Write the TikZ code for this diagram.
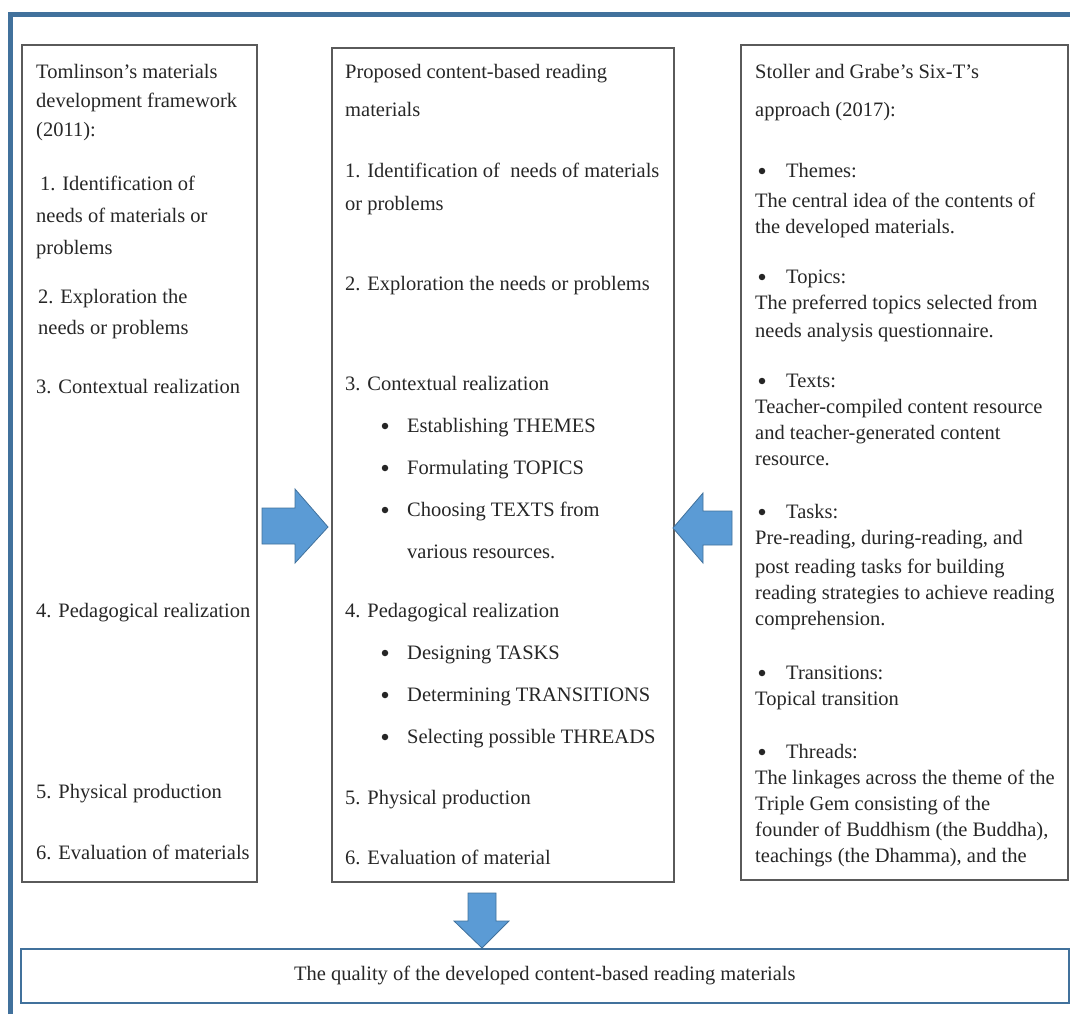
\documentclass[tikz,border=0pt]{standalone}
\usepackage{fontspec}
\setmainfont{Liberation Serif}
\definecolor{frameblue}{HTML}{41719C}
\definecolor{arrowfill}{HTML}{5B9BD5}
\definecolor{boxgray}{HTML}{5A5A5A}
\begin{document}
\begin{tikzpicture}[x=1pt,y=-1pt,
  txt/.style={anchor=base west, inner sep=0pt, font=\fontsize{20.5}{24}\selectfont, text=black!85},
  dot/.style={circle, fill=black!85, inner sep=0pt, minimum size=6.5pt},
  panel/.style={draw=boxgray, line width=1.2pt},
  blockarrow/.style={fill=arrowfill, draw=frameblue, line width=0.8pt, line join=miter}]
\useasboundingbox (0,0) rectangle (1070,1014);
% outer frame
\draw[frameblue, line width=4.5pt] (10.5,1014) -- (10.5,14.5) -- (1070,14.5);
% panels
\draw[panel] (22,45) rectangle (257,882);
\draw[panel] (332,48) rectangle (674,882);
\draw[panel] (741,45) rectangle (1068,880);
\node[draw=frameblue, line width=1.5pt, minimum width=1048pt, minimum height=54pt, anchor=north west, inner sep=0pt,
  font=\fontsize{20.5}{24}\selectfont, text=black!85] (quality) at (20,948) {The quality of the developed content-based reading materials};
% arrows
\fill[blockarrow] (262,508) -- (295,508) -- (295,489) -- (328,527) -- (295,563) -- (295,544) -- (262,544) -- cycle;
\fill[blockarrow] (732,511) -- (703,511) -- (703,493) -- (673,528) -- (703,563) -- (703,545) -- (732,545) -- cycle;
\fill[blockarrow] (468,893) -- (496,893) -- (496,921) -- (509,921) -- (482,948) -- (454,921) -- (468,921) -- cycle;
% left panel
\node[txt] (l1) at (36,79) {Tomlinson’s materials};
\node[txt] (l2) at (36,107) {development framework};
\node[txt] (l3) at (36,136) {(2011):};
\node[txt] (l4) at (40,190) {1. Identification of};
\node[txt] (l5) at (36,222) {needs of materials or};
\node[txt] (l6) at (36,254) {problems};
\node[txt] (l7) at (38,303) {2. Exploration the};
\node[txt] (l8) at (38,334) {needs or problems};
\node[txt] (l9) at (36,393) {3. Contextual realization};
\node[txt] (l10) at (36,617) {4. Pedagogical realization};
\node[txt] (l11) at (36,798) {5. Physical production};
\node[txt] (l12) at (36,859) {6. Evaluation of materials};
% middle panel
\node[txt] (m1) at (345,79) {Proposed content-based reading};
\node[txt] (m2) at (345,117) {materials};
\node[txt] (m3) at (345,177) {1. Identification of\ \ needs of materials};
\node[txt] (m4) at (345,210) {or problems};
\node[txt] (m5) at (345,290) {2. Exploration the needs or problems};
\node[txt] (m6) at (345,390) {3. Contextual realization};
\node[dot] (mb1) at (385,426) {};
\node[txt] (m7) at (407,432) {Establishing THEMES};
\node[dot] (mb2) at (385,468) {};
\node[txt] (m8) at (407,474) {Formulating TOPICS};
\node[dot] (mb3) at (385,510) {};
\node[txt] (m9) at (407,516) {Choosing TEXTS from};
\node[txt] (m10) at (407,558) {various resources.};
\node[txt] (m11) at (345,617) {4. Pedagogical realization};
\node[dot] (mb4) at (385,653) {};
\node[txt] (m12) at (407,659) {Designing TASKS};
\node[dot] (mb5) at (385,695) {};
\node[txt] (m13) at (407,701) {Determining TRANSITIONS};
\node[dot] (mb6) at (385,737) {};
\node[txt] (m14) at (407,743) {Selecting possible THREADS};
\node[txt] (m15) at (345,804) {5. Physical production};
\node[txt] (m16) at (345,864) {6. Evaluation of material};
% right panel
\node[txt] (r1) at (755,79) {Stoller and Grabe’s Six-T’s};
\node[txt] (r2) at (755,117) {approach (2017):};
\node[dot] (rb1) at (762,171) {};
\node[txt] (r3) at (786,177) {Themes:};
\node[txt] (r4) at (755,207) {The central idea of the contents of};
\node[txt] (r5) at (755,233) {the developed materials.};
\node[dot] (rb2) at (762,277) {};
\node[txt] (r6) at (786,283) {Topics:};
\node[txt] (r7) at (755,309) {The preferred topics selected from};
\node[txt] (r8) at (755,337) {needs analysis questionnaire.};
\node[dot] (rb3) at (762,381) {};
\node[txt] (r9) at (786,387) {Texts:};
\node[txt] (r10) at (755,413) {Teacher-compiled content resource};
\node[txt] (r11) at (755,439) {and teacher-generated content};
\node[txt] (r12) at (755,465) {resource.};
\node[dot] (rb4) at (762,512) {};
\node[txt] (r13) at (786,518) {Tasks:};
\node[txt] (r14) at (755,544) {Pre-reading, during-reading, and};
\node[txt] (r15) at (755,573) {post reading tasks for building};
\node[txt] (r16) at (755,599) {reading strategies to achieve reading};
\node[txt] (r17) at (755,625) {comprehension.};
\node[dot] (rb5) at (762,673) {};
\node[txt] (r18) at (786,679) {Transitions:};
\node[txt] (r19) at (755,705) {Topical transition};
\node[dot] (rb6) at (762,752) {};
\node[txt] (r20) at (786,758) {Threads:};
\node[txt] (r21) at (755,784) {The linkages across the theme of the};
\node[txt] (r22) at (755,810) {Triple Gem consisting of the};
\node[txt] (r23) at (755,836) {founder of Buddhism (the Buddha),};
\node[txt] (r24) at (755,862) {teachings (the Dhamma), and the};
\end{tikzpicture}
\end{document}
